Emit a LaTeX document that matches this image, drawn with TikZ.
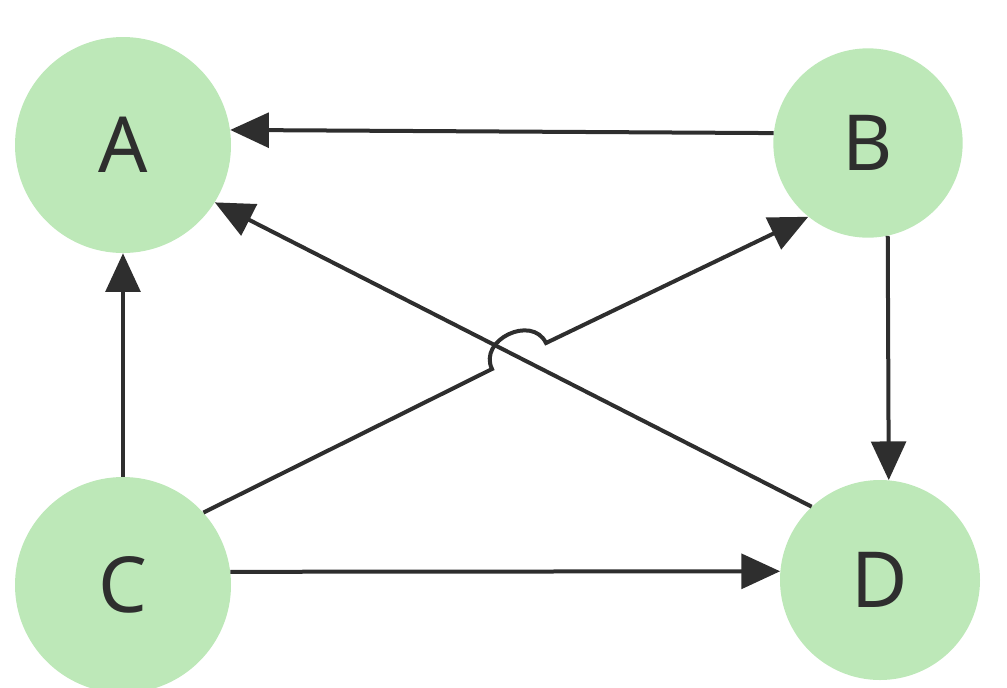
\documentclass[tikz,border=0pt]{standalone}
\usepackage{fontspec}
\setmainfont{Noto Sans}
\usetikzlibrary{arrows.meta}
\definecolor{nodegreen}{HTML}{BDE8B8}
\definecolor{edgegray}{HTML}{2E2E2E}
\begin{document}
\begin{tikzpicture}[x=0.75pt,y=-0.75pt,
  vert/.style={circle,fill=nodegreen,inner sep=0pt,font=\fontsize{58}{68}\selectfont,text=edgegray},
  edge/.style={draw=edgegray,line width=3pt,-{Triangle[length=29pt,width=26pt]}}]
\useasboundingbox (0,0) rectangle (1007,687);
\node[vert,minimum size=162pt] (A) at (123,145) {A};
\node[vert,minimum size=142pt] (B) at (868,143) {B};
\node[vert,minimum size=162pt] (C) at (123,585) {C};
\node[vert,minimum size=150pt] (D) at (880,580) {D};
\coordinate (p1) at (492,369);
\coordinate (c1) at (478,340);
\coordinate (c2) at (532,314);
\coordinate (p2) at (546,343);
\draw[edge] (B.174) -- (A.8);
\draw[edge] (D.133) -- (A.-32);
\draw[edge] (C.42) -- (p1) .. controls (c1) and (c2) .. (p2) -- (B.-129);
\draw[edge] (C.north) -- (A.south);
\draw[edge] (B.-78) -- (D.85);
\draw[edge] (C.7) -- (D.175);
\end{tikzpicture}
\end{document}
